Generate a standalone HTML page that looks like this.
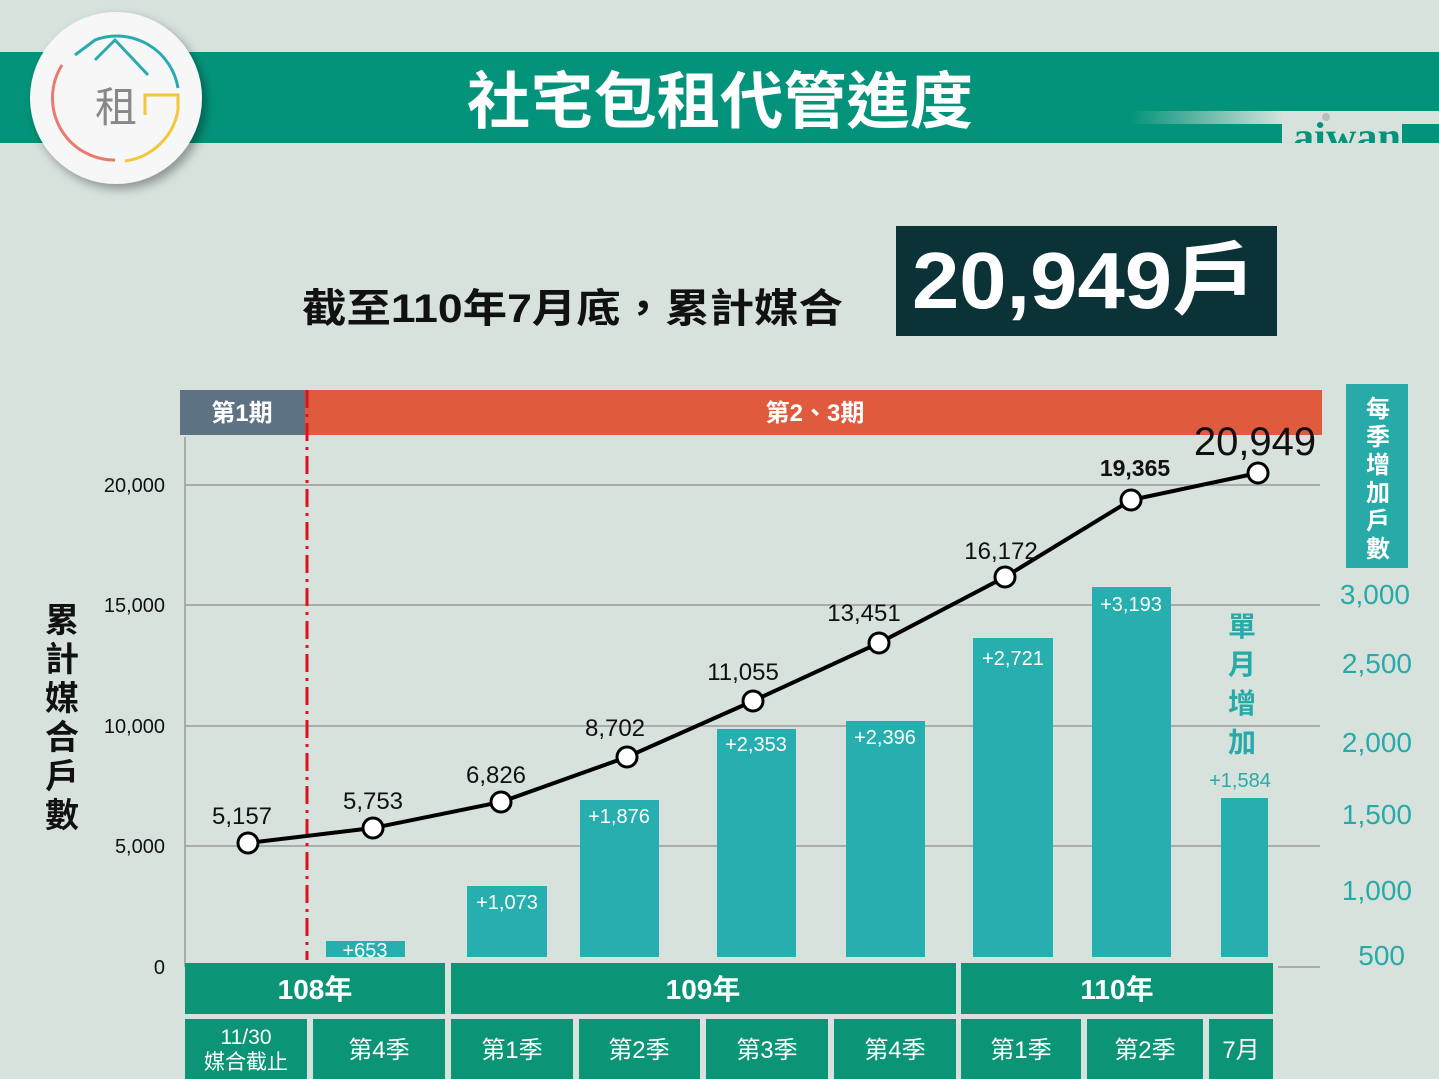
<!DOCTYPE html><html><head><meta charset="utf-8"><style>
body{margin:0;width:1439px;height:1079px;overflow:hidden;background:#d7e2dd;font-family:"Liberation Sans","Noto Sans CJK TC",sans-serif}
</style></head><body>
<svg width="1439" height="1079" xmlns="http://www.w3.org/2000/svg" style="position:absolute;left:0;top:0;font-family:'Liberation Sans','Noto Sans CJK TC',sans-serif">
<defs><linearGradient id="g" x1="0" x2="1"><stop offset="0" stop-color="#03937a"/><stop offset="0.5" stop-color="#d7e2dd"/><stop offset="1" stop-color="#d7e2dd"/></linearGradient>
<filter id="sh"><feDropShadow dx="4" dy="5" stdDeviation="5" flood-opacity="0.35"/></filter>
<clipPath id="cw"><rect x="1282" y="100" width="130" height="43"/></clipPath></defs>
<rect x="0" y="52" width="1439" height="91" fill="#03937a"/>
<rect x="1130" y="111" width="309" height="13" fill="url(#g)"/>
<rect x="1282" y="124" width="120" height="19" fill="#d7e2dd"/>
<text x="1293" y="150" font-family="Liberation Serif" font-size="40" font-weight="bold" fill="#03937a" textLength="108" lengthAdjust="spacingAndGlyphs" clip-path="url(#cw)">aiwan</text>
<circle cx="1326" cy="117" r="4" fill="#bbb"/>
<text x="467" y="123" font-size="62" font-weight="bold" fill="#fff" textLength="506" lengthAdjust="spacingAndGlyphs">社宅包租代管進度</text>
<circle cx="116" cy="98" r="86" fill="#f7f7f7" filter="url(#sh)"/>
<path d="M62 65 A62 62 0 0 0 115 160" stroke="#ea7a6f" stroke-width="3" fill="none"/>
<path d="M75 55 L95 40 A62 62 0 0 1 178 88" stroke="#2aaab0" stroke-width="3" fill="none"/>
<path d="M95 60 L115 40 L148 75" stroke="#2aaab0" stroke-width="3" fill="none"/>
<path d="M178 110 A62 62 0 0 1 125 161" stroke="#f4c63a" stroke-width="3" fill="none"/>
<path d="M145 115 L145 95 L178 95 L178 110" stroke="#f4c63a" stroke-width="3" fill="none"/>
<text x="116" y="122" text-anchor="middle" font-size="42" fill="#888">租</text>
<rect x="896" y="226" width="381" height="110" fill="#0a3237"/>
<text x="912" y="308" font-size="80" font-weight="bold" fill="#fff" textLength="345" lengthAdjust="spacingAndGlyphs">20,949戶</text>
<text x="302" y="322" font-size="40" font-weight="bold" fill="#111" textLength="541" lengthAdjust="spacingAndGlyphs">截至110年7月底，累計媒合</text>
<rect x="180" y="390" width="125" height="45" fill="#5d7283"/>
<text x="242" y="421" text-anchor="middle" font-size="24" font-weight="bold" fill="#fff">第1期</text>
<rect x="305" y="390" width="1017" height="45" fill="#e05a3e"/>
<text x="815" y="421" text-anchor="middle" font-size="24" font-weight="bold" fill="#fff">第2、3期</text>
<rect x="1346" y="384" width="62" height="184" fill="#27aaa8"/>
<text font-size="24" font-weight="bold" fill="#fff" text-anchor="middle"><tspan x="1378" y="417">每</tspan><tspan x="1378" y="445">季</tspan><tspan x="1378" y="473">增</tspan><tspan x="1378" y="501">加</tspan><tspan x="1378" y="529">戶</tspan><tspan x="1378" y="557">數</tspan></text>
<g stroke="#999" stroke-width="1.5"><line x1="185" y1="485" x2="1320" y2="485"/><line x1="185" y1="605" x2="1320" y2="605"/><line x1="185" y1="726" x2="1320" y2="726"/><line x1="185" y1="846" x2="1320" y2="846"/><line x1="185" y1="437" x2="185" y2="967"/><line x1="1278" y1="967" x2="1320" y2="967"/></g>
<g font-size="20" fill="#111" text-anchor="end"><text x="165" y="492">20,000</text><text x="165" y="612">15,000</text><text x="165" y="733">10,000</text><text x="165" y="853">5,000</text><text x="165" y="974">0</text></g>
<g font-size="28" fill="#27aaa8" text-anchor="end"><text x="1410" y="604">3,000</text><text x="1412" y="673">2,500</text><text x="1412" y="752">2,000</text><text x="1412" y="824">1,500</text><text x="1412" y="900">1,000</text><text x="1405" y="965">500</text></g>
<text font-size="34" font-weight="bold" fill="#111" text-anchor="middle"><tspan x="62" y="632">累</tspan><tspan x="62" y="671">計</tspan><tspan x="62" y="710">媒</tspan><tspan x="62" y="749">合</tspan><tspan x="62" y="788">戶</tspan><tspan x="62" y="827">數</tspan></text>
<text font-size="28" font-weight="bold" fill="#27aaa8" text-anchor="middle"><tspan x="1242" y="636">單</tspan><tspan x="1242" y="674">月</tspan><tspan x="1242" y="713">增</tspan><tspan x="1242" y="752">加</tspan></text>
<g fill="#27aeae"><rect x="326" y="941" width="79" height="16"/><rect x="467" y="886" width="80" height="71"/><rect x="580" y="800" width="79" height="157"/><rect x="717" y="729" width="79" height="228"/><rect x="846" y="721" width="79" height="236"/><rect x="973" y="638" width="80" height="319"/><rect x="1092" y="587" width="79" height="370"/><rect x="1221" y="798" width="47" height="159"/></g>
<g font-size="20" fill="#fff" text-anchor="middle"><text x="365" y="957">+653</text><text x="507" y="909">+1,073</text><text x="619" y="823">+1,876</text><text x="756" y="751">+2,353</text><text x="885" y="744">+2,396</text><text x="1013" y="665">+2,721</text><text x="1131" y="611">+3,193</text></g>
<text x="1240" y="787" font-size="20" fill="#27aaa8" text-anchor="middle">+1,584</text>
<line x1="307" y1="390" x2="307" y2="960" stroke="#e0101c" stroke-width="3" stroke-dasharray="18,6,3,6"/>
<polyline points="248,843 373,828 501,802 627,757 753,701 879,643 1005,577 1131,500 1258,473" fill="none" stroke="#000" stroke-width="4"/>
<g fill="#fff" stroke="#000" stroke-width="3"><circle cx="248" cy="843" r="10"/><circle cx="373" cy="828" r="10"/><circle cx="501" cy="802" r="10"/><circle cx="627" cy="757" r="10"/><circle cx="753" cy="701" r="10"/><circle cx="879" cy="643" r="10"/><circle cx="1005" cy="577" r="10"/><circle cx="1131" cy="500" r="10"/><circle cx="1258" cy="473" r="10"/></g>
<g font-size="24" fill="#111" text-anchor="middle"><text x="242" y="824">5,157</text><text x="373" y="809">5,753</text><text x="496" y="783">6,826</text><text x="615" y="736">8,702</text><text x="743" y="680">11,055</text><text x="864" y="621">13,451</text><text x="1001" y="559">16,172</text><text x="1135" y="476" font-weight="bold" font-size="23">19,365</text><text x="1255" y="455" font-size="40">20,949</text></g>
<g fill="#0b9475"><rect x="185" y="963" width="260" height="51"/><rect x="451" y="963" width="505" height="51"/><rect x="961" y="963" width="312" height="51"/>
<rect x="185" y="1019" width="122" height="60"/><rect x="313" y="1019" width="132" height="60"/><rect x="451" y="1019" width="122" height="60"/><rect x="579" y="1019" width="121" height="60"/><rect x="706" y="1019" width="122" height="60"/><rect x="834" y="1019" width="122" height="60"/><rect x="961" y="1019" width="120" height="60"/><rect x="1087" y="1019" width="116" height="60"/><rect x="1209" y="1019" width="64" height="60"/></g>
<g fill="#fff" text-anchor="middle"><g font-size="28" font-weight="bold"><text x="315" y="999">108年</text><text x="703" y="999">109年</text><text x="1117" y="999">110年</text></g>
<g font-size="24"><text x="379" y="1058">第4季</text><text x="512" y="1058">第1季</text><text x="639" y="1058">第2季</text><text x="767" y="1058">第3季</text><text x="895" y="1058">第4季</text><text x="1021" y="1058">第1季</text><text x="1145" y="1058">第2季</text><text x="1241" y="1058">7月</text></g>
<g font-size="21"><text x="246" y="1044">11/30</text><text x="246" y="1069">媒合截止</text></g></g>
</svg></body></html>
